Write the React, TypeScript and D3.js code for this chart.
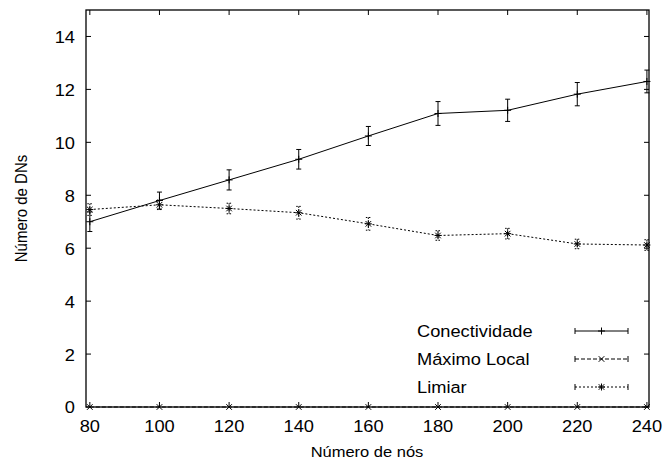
import React from "react";
import * as d3 from "d3";

const nodes = [80, 100, 120, 140, 160, 180, 200, 220, 240];
const conectividade = [7.0, 7.8, 8.58, 9.36, 10.24, 11.09, 11.21, 11.82, 12.3];
const conectividadeErr = [0.37, 0.32, 0.38, 0.37, 0.36, 0.45, 0.42, 0.44, 0.43];
const maximoLocal = [0, 0, 0, 0, 0, 0, 0, 0, 0];
const maximoLocalErr = [0, 0, 0, 0, 0, 0, 0, 0, 0];
const limiar = [7.46, 7.64, 7.5, 7.34, 6.92, 6.48, 6.55, 6.16, 6.12];
const limiarErr = [0.22, 0.18, 0.2, 0.24, 0.24, 0.18, 0.2, 0.18, 0.2];
const xTicks = [80, 100, 120, 140, 160, 180, 200, 220, 240];
const yTicks = [0, 2, 4, 6, 8, 10, 12, 14];
const seriesNames = ["Conectividade", "Máximo Local", "Limiar"];

const W = 665;
const H = 465;
const L = 86, R = 649, T = 10, B = 407;
const FONT = "'Liberation Sans', Arial, sans-serif";

function marker(kind: string, x: number, y: number, key: string) {
  const s = 3.5;
  const plus = `M${x - s},${y}H${x + s}M${x},${y - s}V${y + s}`;
  const cross = `M${x - s * 0.8},${y - s * 0.8}L${x + s * 0.8},${y + s * 0.8}M${x - s * 0.8},${y + s * 0.8}L${x + s * 0.8},${y - s * 0.8}`;
  const d = kind === "plus" ? plus : kind === "cross" ? cross : plus + cross;
  return <path key={key} d={d} stroke="#000" strokeWidth={1} fill="none" />;
}

export default function App() {
  const x = d3.scaleLinear().domain([78.9, 240.6]).range([L, R]);
  const y = d3.scaleLinear().domain([0, 15]).range([B, T]);

  const series = [
    { name: seriesNames[0], v: conectividade, e: conectividadeErr, dash: "", m: "plus", ebDash: "" },
    { name: seriesNames[1], v: maximoLocal, e: maximoLocalErr, dash: "4,2", m: "cross", ebDash: "4,2" },
    { name: seriesNames[2], v: limiar, e: limiarErr, dash: "2,2", m: "star", ebDash: "1.5,1.5" },
  ];

  const line = d3.line<number>().x((_, i) => x(nodes[i])).y((d) => y(d));
  const cap = 2.5;

  return (
    <svg width={W} height={H} style={{ position: "absolute", left: 0, top: 0 }}>
      <rect x={0} y={0} width={W} height={H} fill="#fff" />
      {/* ticks */}
      {xTicks.map((t) => (
        <g key={"xt" + t}>
          <line x1={x(t)} x2={x(t)} y1={B} y2={B - 5} stroke="#000" />
          <line x1={x(t)} x2={x(t)} y1={T} y2={T + 5} stroke="#000" />
          <text x={x(t)} y={432.5} textAnchor="middle" fontFamily={FONT} fontSize={16.3} transform={`translate(${x(t)},0) scale(1.12,1) translate(${-x(t)},0)`}>{t}</text>
        </g>
      ))}
      {yTicks.map((t) => (
        <g key={"yt" + t}>
          <line x1={L} x2={L + 5} y1={y(t)} y2={y(t)} stroke="#000" />
          <line x1={R} x2={R - 5} y1={y(t)} y2={y(t)} stroke="#000" />
          <text x={75} y={y(t) + 6.5} textAnchor="end" fontFamily={FONT} fontSize={16.3} transform={`translate(75,0) scale(1.12,1) translate(-75,0)`}>{t}</text>
        </g>
      ))}
      {/* series */}
      {series.map((s, si) => (
        <g key={"s" + si}>
          <path d={line(s.v) || ""} fill="none" stroke="#000" strokeWidth={1} strokeDasharray={s.dash} />
          {s.v.map((v, i) => {
            const cx = x(nodes[i]);
            const y1 = y(v + s.e[i]);
            const y2 = y(v - s.e[i]);
            return (
              <g key={"p" + i}>
                {s.e[i] > 0 && (
                  <path
                    d={`M${cx},${y1}V${y2}M${cx - cap},${y1}H${cx + cap}M${cx - cap},${y2}H${cx + cap}`}
                    stroke="#000"
                    strokeWidth={1}
                    strokeDasharray={s.ebDash}
                    fill="none"
                  />
                )}
                {marker(s.m, cx, y(v), "m" + i)}
              </g>
            );
          })}
        </g>
      ))}
      {/* frame */}
      <rect x={L} y={T} width={R - L} height={B - T} fill="none" stroke="#000" strokeWidth={1.3} />
      {/* legend */}
      {series.map((s, si) => {
        const ly = 331 + si * 28;
        return (
          <g key={"lg" + si}>
            <text x={417} y={ly + 6} fontFamily={FONT} fontSize={16.3} transform={`translate(417,0) scale(1.12,1) translate(-417,0)`}>{s.name}</text>
            <line x1={575} x2={628} y1={ly} y2={ly} stroke="#000" strokeDasharray={s.dash} />
            <line x1={575} x2={575} y1={ly - 3} y2={ly + 3} stroke="#000" />
            <line x1={628} x2={628} y1={ly - 3} y2={ly + 3} stroke="#000" />
            {marker(s.m, 601.5, ly, "lm" + si)}
          </g>
        );
      })}
      {/* axis labels */}
      <text x={367} y={457} textAnchor="middle" fontFamily={FONT} fontSize={15} transform={`translate(367,0) scale(1.1,1) translate(-367,0)`}>Número de nós</text>
      <text transform={`translate(27,208.5) rotate(-90) scale(1,1.1)`} textAnchor="middle" fontFamily={FONT} fontSize={15}>Número de DNs</text>
    </svg>
  );
}
